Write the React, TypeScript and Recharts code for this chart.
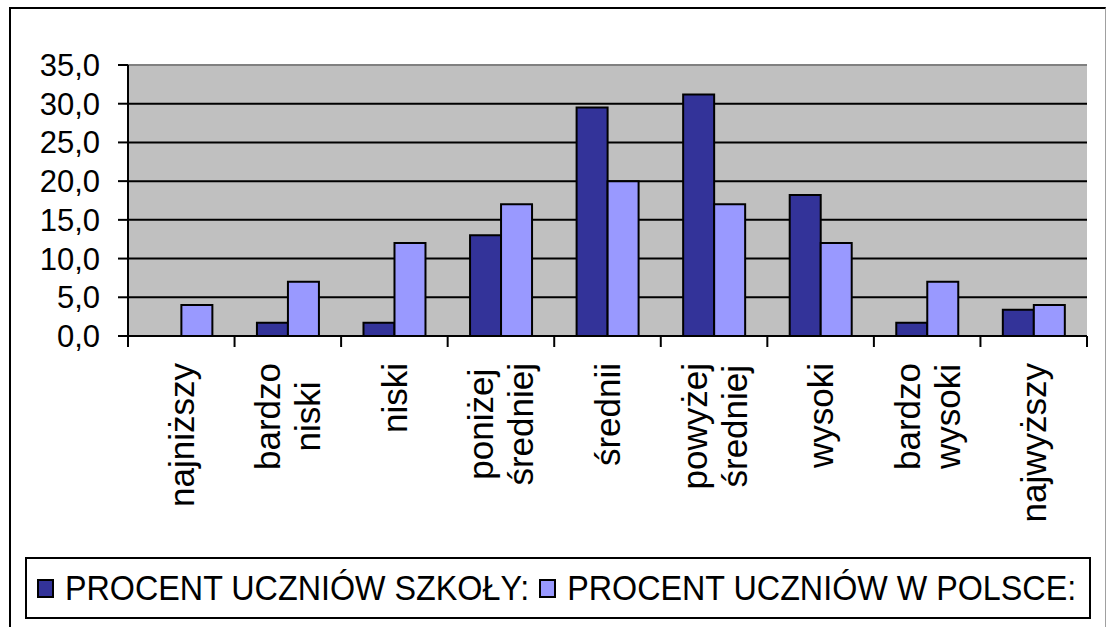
import React from 'react';
import { BarChart, Bar, XAxis, YAxis, CartesianGrid, Legend, ReferenceLine } from 'recharts';

const categories = ['najniższy', 'bardzo niski', 'niski', 'poniżej średniej', 'średnii', 'powyżej średniej', 'wysoki', 'bardzo wysoki', 'najwyższy'];
const schoolValues = [0, 1.7, 1.7, 13.0, 29.5, 31.2, 18.2, 1.7, 3.4];
const polandValues = [4, 7, 12, 17, 20, 17, 12, 7, 4];
const yTicks = [0, 5, 10, 15, 20, 25, 30, 35];
const seriesNames = ['PROCENT UCZNIÓW SZKOŁY:', 'PROCENT UCZNIÓW W POLSCE:'];
const seriesColors = ['#333399', '#9999FF'];

const data = categories.map((c, i) => ({ name: c, school: schoolValues[i], poland: polandValues[i] }));

const W = 1108;
const H = 627;
const PLOT_LEFT = 128;
const PLOT_RIGHT = 1087;
const PLOT_TOP = 65;
const PLOT_BOTTOM = 336;
const X_AXIS_H = 220;
const BAND = (PLOT_RIGHT - PLOT_LEFT) / categories.length;
const FONT = '"Liberation Sans", Arial, sans-serif';
const XFS = 35;
const LINE_GAP = 40;

let ctx: CanvasRenderingContext2D | null = null;
function measure(t: string): number {
  if (!ctx) {
    const c = document.createElement('canvas');
    ctx = c.getContext('2d');
  }
  if (!ctx) return t.length * XFS * 0.5;
  ctx.font = `${XFS}px "Liberation Sans", Arial, sans-serif`;
  return ctx.measureText(t).width;
}

const XTick = (props: any) => {
  const { x, y, payload, index } = props;
  const lines = String(payload.value).split(' ');
  const n = lines.length;
  const maxW = Math.max(...lines.map(measure));
  const cy = y + 27 + maxW / 2;
  return (
    <g>
      <line x1={x - BAND / 2} x2={x - BAND / 2} y1={y} y2={y + 11} stroke="#000" strokeWidth={2} />
      {index === categories.length - 1 && (
        <line x1={x + BAND / 2} x2={x + BAND / 2} y1={y} y2={y + 11} stroke="#000" strokeWidth={2} />
      )}
      {lines.map((l, k) => {
        const lx = x + (k - (n - 1) / 2) * LINE_GAP;
        return (
          <text
            key={k}
            x={lx}
            y={cy}
            transform={`rotate(-90 ${lx} ${cy})`}
            textAnchor="middle"
            dominantBaseline="central"
            fontSize={XFS}
            fontFamily={FONT}
            fill="#000"
          >
            {l}
          </text>
        );
      })}
    </g>
  );
};

const LegendContent = () => (
  <div
    style={{
      boxSizing: 'border-box',
      width: 1066,
      height: 62,
      border: '2px solid #000',
      background: '#fff',
      display: 'flex',
      alignItems: 'center',
      paddingLeft: 10,
      fontFamily: FONT,
      fontSize: 32.3,
      color: '#000',
      whiteSpace: 'nowrap',
    }}
  >
    {seriesNames.map((nm, i) => (
      <div key={nm} style={{ display: 'flex', alignItems: 'center', marginRight: 10 }}>
        <div
          style={{
            boxSizing: 'border-box',
            width: 17,
            height: 19,
            border: '2px solid #000',
            background: seriesColors[i],
            marginRight: 11,
          }}
        />
        <span style={{ display: 'inline-block', transform: 'scaleY(1.08)' }}>{nm}</span>
      </div>
    ))}
  </div>
);

export default function App() {
  return (
    <div style={{ position: 'relative', width: W, height: H, overflow: 'hidden', background: '#fff' }}>
      <style>{'body{margin:0}'}</style>
      <div
        style={{
          position: 'absolute',
          left: 9,
          top: 7,
          width: 1097,
          height: 700,
          borderLeft: '2px solid #000',
          borderTop: '2px solid #000',
          borderRight: '1px solid #a0a0a0',
          boxSizing: 'border-box',
        }}
      />
      <div style={{ position: 'absolute', left: 0, top: 0 }}>
        <BarChart
          width={W}
          height={H}
          data={data}
          margin={{ top: PLOT_TOP, right: W - PLOT_RIGHT, left: 0, bottom: H - PLOT_BOTTOM - X_AXIS_H }}
          barCategoryGap="21%"
          barGap={0}
        >
          <CartesianGrid
            vertical={false}
            fill="#C0C0C0"
            stroke="#000"
            strokeWidth={2}
            horizontalValues={[5, 10, 15, 20, 25, 30]}
          />
          <XAxis
            dataKey="name"
            height={X_AXIS_H}
            interval={0}
            tickLine={false}
            tickSize={0}
            tickMargin={0}
            axisLine={{ stroke: '#000', strokeWidth: 2 }}
            tick={<XTick />}
          />
          <YAxis
            width={PLOT_LEFT}
            domain={[0, 35]}
            ticks={yTicks}
            interval={0}
            tickSize={10}
            tickMargin={18}
            tickFormatter={(v: number) => v.toFixed(1).replace('.', ',')}
            tick={{ fontSize: 31, fontFamily: FONT, fill: '#000' }}
            tickLine={{ stroke: '#000', strokeWidth: 2 }}
            axisLine={{ stroke: '#000', strokeWidth: 2 }}
          />
          <YAxis
            yAxisId="right"
            orientation="right"
            width={0}
            domain={[0, 35]}
            tick={false}
            tickLine={false}
            axisLine={{ stroke: '#808080', strokeWidth: 2 }}
          />
          <ReferenceLine y={35} stroke="#808080" strokeWidth={2} />
          <Legend
            layout="horizontal"
            verticalAlign="middle"
            align="center"
            content={<LegendContent />}
            wrapperStyle={{ position: 'absolute', left: 25, top: 557, width: 1066, height: 62 }}
          />
          <Bar dataKey="school" name={seriesNames[0]} fill={seriesColors[0]} stroke="#000" strokeWidth={2} isAnimationActive={false} />
          <Bar dataKey="poland" name={seriesNames[1]} fill={seriesColors[1]} stroke="#000" strokeWidth={2} isAnimationActive={false} />
        </BarChart>
      </div>
    </div>
  );
}
